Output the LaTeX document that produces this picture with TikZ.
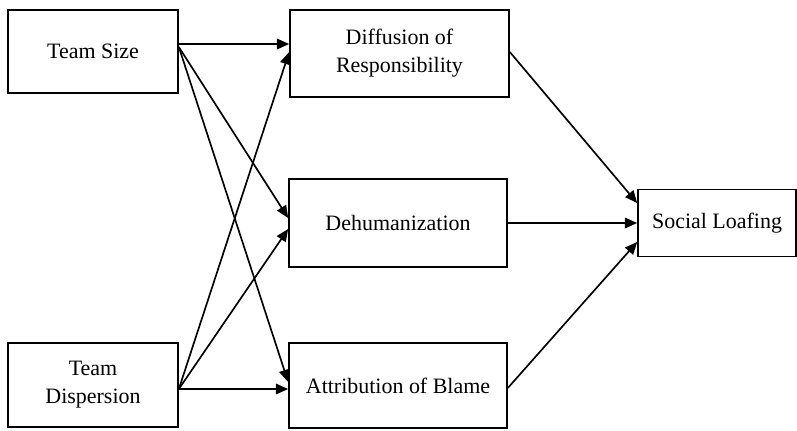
\documentclass[tikz,border=0pt]{standalone}
\usepackage{fontspec}
\setmainfont{Liberation Serif}
\usepackage{tikz}
\usetikzlibrary{arrows.meta}
\usetikzlibrary{calc}

\begin{document}
\begin{tikzpicture}[x=0.02cm,y=-0.02cm,-{Triangle[length=7pt,width=6pt]},line width=0.95pt]
	\tikzstyle{box}=[draw=black, fill=white, text=black, rectangle, align=center, font=\fontsize{12.5}{16}\selectfont, inner sep=0pt]
	\useasboundingbox (0,0) rectangle (797,430);
		\node[box, minimum width=170*0.02cm, minimum height=83*0.02cm] (size) at (93,51.5) {Team Size};
		\node[box, minimum width=170*0.02cm, minimum height=84*0.02cm] (disp) at (93,385) {Team\\Dispersion};
		\node[box, minimum width=219*0.02cm, minimum height=87*0.02cm] (diff) at (399.5,53.5) {Diffusion of\\Responsibility};
		\node[box, minimum width=218*0.02cm, minimum height=88*0.02cm] (dehum) at (398,223) {Dehumanization};
		\node[box, minimum width=218*0.02cm, minimum height=85*0.02cm] (blame) at (398,385.5) {Attribution of Blame};
		\node[box, minimum width=158*0.02cm, minimum height=67*0.02cm] (loaf) at (717,223) {Social Loafing};
		\draw ($(size.east)+(0,-7.5)$) -- ($(diff.west)+(0,-9.5)$);
		\draw ($(size.east)+(0,-4.5)$) -- ($(dehum.west)+(0,-5)$);
		\draw ($(size.east)+(0,-4.5)$) -- ($(blame.west)+(0,-3.5)$);
		\draw ($(disp.east)+(0,4)$) -- ($(diff.west)+(0,-1.5)$);
		\draw ($(disp.east)+(0,4)$) -- ($(dehum.west)+(0,6)$);
		\draw ($(disp.east)+(0,4)$) -- ($(blame.west)+(0,3.5)$);
		\draw ($(diff.east)+(0,-1.5)$) -- ($(loaf.west)+(0,-20)$);
		\draw (dehum.east) -- (loaf.west);
		\draw ($(blame.east)+(0,2.5)$) -- ($(loaf.west)+(0,19)$);
\end{tikzpicture}
\end{document}
